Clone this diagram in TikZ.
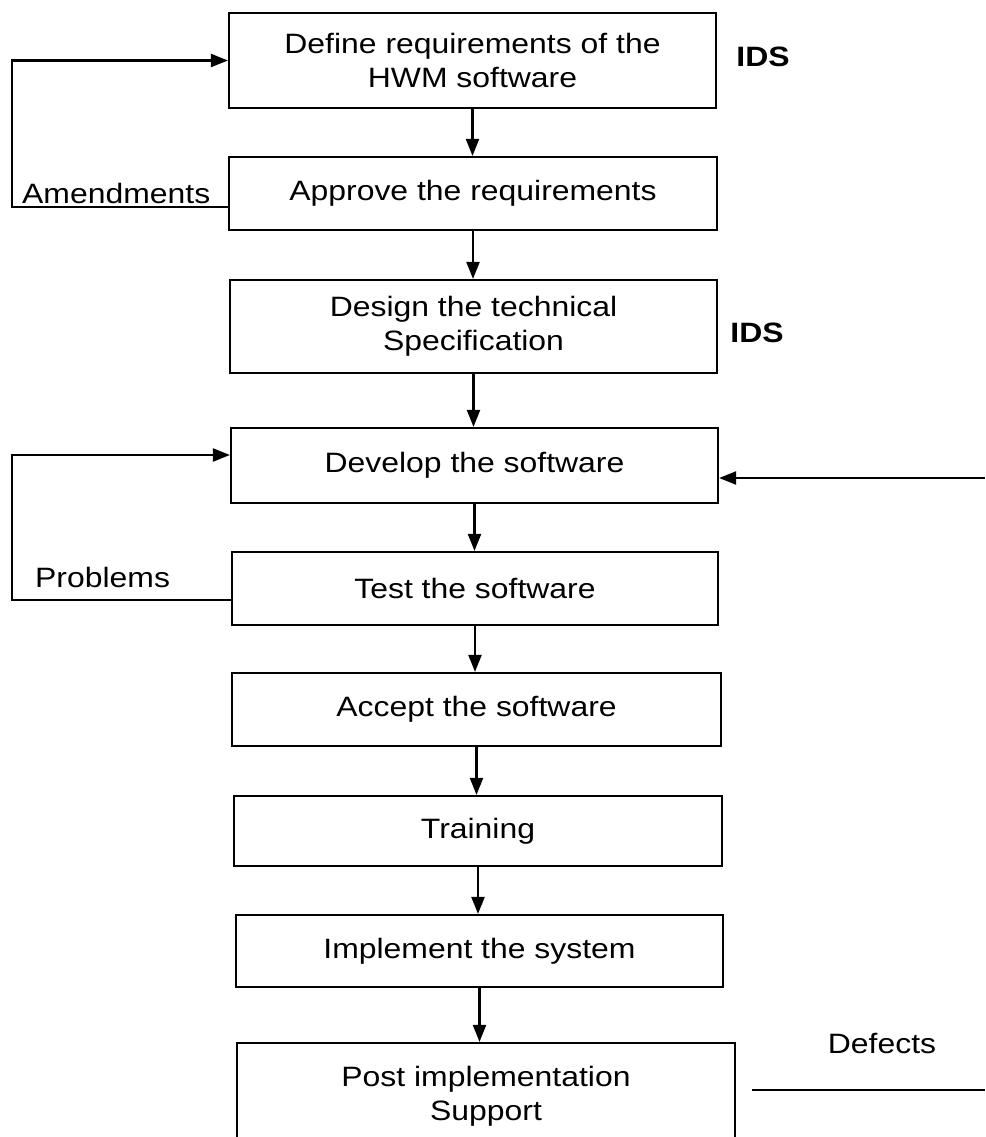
\documentclass[tikz,border=0pt]{standalone}
\usepackage{fontspec}
\setmainfont{Liberation Sans}[FakeStretch=1.14]
\usetikzlibrary{arrows.meta}
\begin{document}
\begin{tikzpicture}[x=1pt,y=-1pt,
  txt/.style={font=\fontsize{28}{34}\selectfont},
  box/.style={draw, line width=2.2pt, rectangle, inner sep=0pt, align=center, txt},
  conn/.style={line width=2.2pt},
  arr/.style={conn, -{Triangle[length=17pt,width=13pt]}},
  lbl/.style={txt, inner sep=0pt},
  ids/.style={font=\fontsize{28}{34}\selectfont\bfseries, inner sep=0pt}]
\useasboundingbox (0,0) rectangle (985,1137);
\fill[white] (0,0) rectangle (985,1137);
\clip (0,0) rectangle (985,1137);

% process steps
\node[box, minimum width=487pt, minimum height=95pt]  (b1) at (472.5,60.5)  {Define requirements of the\\HWM software};
\node[box, minimum width=488pt, minimum height=73pt]  (b2) at (473,193.5)   {Approve the requirements};
\node[box, minimum width=487pt, minimum height=93pt]  (b3) at (473.5,326.5) {Design the technical\\Specification};
\node[box, minimum width=487pt, minimum height=75pt]  (b4) at (474.5,465.5) {Develop the software};
\node[box, minimum width=486pt, minimum height=73pt]  (b5) at (475,588.5)   {Test the software};
\node[box, minimum width=489pt, minimum height=73pt]  (b6) at (476.5,709.5) {Accept the software};
\node[box, minimum width=488pt, minimum height=70pt]  (b7) at (478,831)     {Training};
\node[box, minimum width=487pt, minimum height=72pt]  (b8) at (479.5,951)   {Implement the system};
\node[box, minimum width=498pt, minimum height=107pt] (b9) at (486,1096.5)  {Post implementation\\Support};

% main flow
\foreach \a/\b in {b1/b2,b2/b3,b3/b4,b4/b5,b5/b6,b6/b7,b7/b8,b8/b9}
  \draw[arr] (\a.south) -- (\a.south |- \b.north);

% amendment loop
\coordinate (amCorner) at (12,60.5);
\draw[arr] ([yshift=-13.5pt]b2.west) -| (amCorner) -- (b1.west);
\node[lbl, anchor=base west] (am) at (22,203) {Amendments};

% problem loop
\coordinate (prCorner) at (12,455);
\draw[arr] ([yshift=-11.5pt]b5.west) -| (prCorner) -- (prCorner -| b4.west);
\node[lbl, anchor=base west] (pr) at (35,587) {Problems};

% incoming defects
\coordinate (extR) at (985,478);
\draw[arr] (extR) -- (extR -| b4.east);
\coordinate (dfA) at (752,1090);
\coordinate (dfB) at (985,1090);
\draw[conn] (dfA) -- (dfB);
\node[lbl, anchor=base] (df) at (882,1053) {Defects};

% responsible party
\node[ids] (ids1) at (763,57) {IDS};
\node[ids] (ids2) at (757,333) {IDS};
\end{tikzpicture}
\end{document}
